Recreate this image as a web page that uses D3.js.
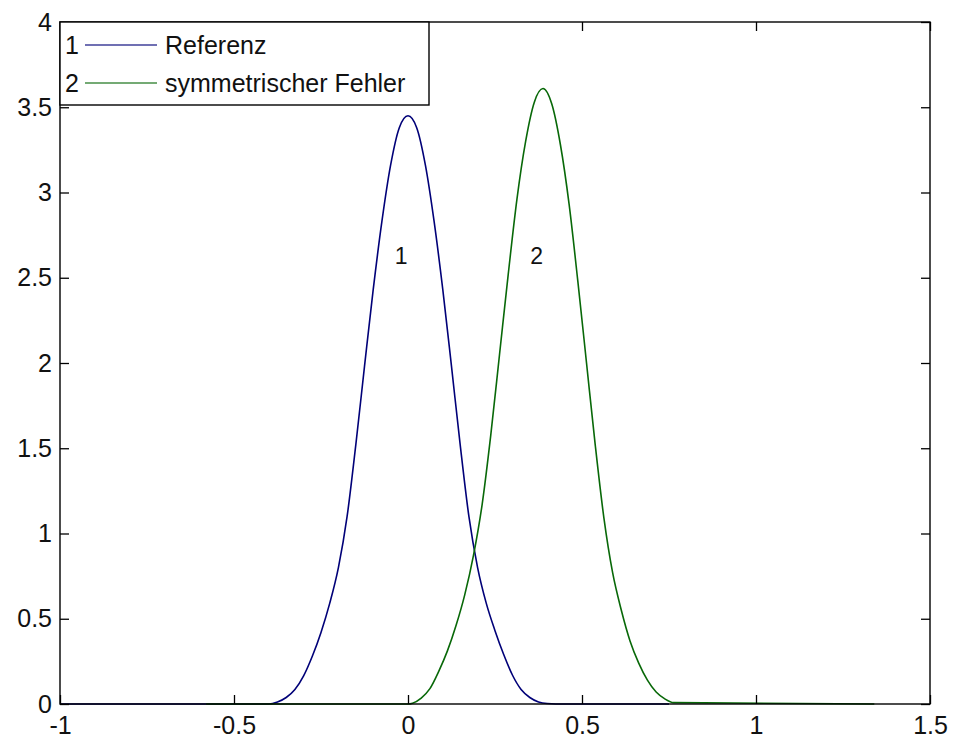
<!DOCTYPE html>
<html>
<head>
<meta charset="utf-8">
<script src="https://cdn.jsdelivr.net/npm/d3@7"></script>
<style>
  html, body { margin: 0; padding: 0; background: #fff; }
  svg { display: block; }
  text { font-family: "Liberation Sans", Arial, sans-serif; fill: #111; }
</style>
</head>
<body>
<svg id="chart" width="955" height="745"></svg>
<script>
// ---- data ----
const xTicks = [-1, -0.5, 0, 0.5, 1, 1.5];
const xTickLabels = ["-1", "-0.5", "0", "0.5", "1", "1.5"];
const yTicks = [0, 0.5, 1, 1.5, 2, 2.5, 3, 3.5, 4];
const yTickLabels = ["0", "0.5", "1", "1.5", "2", "2.5", "3", "3.5", "4"];

const seriesNames = ["Referenz", "symmetrischer Fehler"];
const seriesIds = ["1", "2"];

// Series 1: Referenz
const refX = [-1, -0.45, -0.4, -0.375, -0.35, -0.325, -0.3, -0.275, -0.25, -0.225, -0.2, -0.175, -0.15, -0.125, -0.1, -0.075, -0.05, -0.025,
  0, 0.025, 0.05, 0.075, 0.1, 0.125, 0.15, 0.175, 0.2, 0.225, 0.25, 0.275, 0.3, 0.325, 0.35, 0.375, 0.4, 0.45, 0.75];
const refY = [0, 0, 0, 0.012, 0.038, 0.085, 0.165, 0.28, 0.42, 0.59, 0.80, 1.10, 1.52, 1.98, 2.43, 2.83, 3.16, 3.38,
  3.45, 3.38, 3.16, 2.83, 2.43, 1.98, 1.52, 1.10, 0.80, 0.59, 0.43, 0.29, 0.17, 0.085, 0.038, 0.012, 0.003, 0, 0];

// Series 2: symmetrischer Fehler
const errX = [-0.58, 0.0, 0.013, 0.038, 0.063, 0.088, 0.113, 0.138, 0.163, 0.188, 0.213, 0.238, 0.263, 0.288, 0.313, 0.338, 0.363,
  0.388, 0.413, 0.438, 0.463, 0.488, 0.513, 0.538, 0.563, 0.588, 0.613, 0.638, 0.663, 0.688, 0.713, 0.738, 0.763, 1.34];
const errY = [0, 0, 0.005, 0.035, 0.09, 0.19, 0.31, 0.46, 0.64, 0.87, 1.17, 1.58, 2.05, 2.52, 2.96, 3.30, 3.53,
  3.61, 3.52, 3.28, 2.93, 2.48, 2.00, 1.52, 1.09, 0.77, 0.55, 0.37, 0.24, 0.14, 0.07, 0.03, 0.008, 0];

const seriesColors = ["#000078", "#086808"];

// ---- layout ----
const svg = d3.select("#chart");
const mLeft = 60, mRight = 930, mTop = 22, mBottom = 704;

const x = d3.scaleLinear().domain([-1, 1.5]).range([mLeft, mRight]);
const y = d3.scaleLinear().domain([0, 4]).range([mBottom, mTop]);

// data lines
const series = [
  { xs: refX, ys: refY, color: seriesColors[0] },
  { xs: errX, ys: errY, color: seriesColors[1] }
];
const line = d3.line().x(d => x(d[0])).y(d => y(d[1])).curve(d3.curveMonotoneX);
series.forEach(s => {
  const pts = s.xs.map((v, i) => [v, s.ys[i]]);
  svg.append("path").datum(pts)
    .attr("d", line).attr("fill", "none")
    .attr("stroke", s.color).attr("stroke-width", 1.6);
});

// axes with inward ticks (box on)
const fmtX = (d, i) => xTickLabels[i];
const fmtY = (d, i) => yTickLabels[i];
const axB = d3.axisBottom(x).tickValues(xTicks).tickFormat(fmtX).tickSizeInner(-9).tickSizeOuter(0).tickPadding(17);
const axT = d3.axisTop(x).tickValues(xTicks).tickFormat("").tickSizeInner(-9).tickSizeOuter(0);
const axL = d3.axisLeft(y).tickValues(yTicks).tickFormat(fmtY).tickSizeInner(-9).tickSizeOuter(0).tickPadding(8);
const axR = d3.axisRight(y).tickValues(yTicks).tickFormat("").tickSizeInner(-9).tickSizeOuter(0);

function styleAxis(g) {
  g.select(".domain").remove();
  g.selectAll(".tick line").attr("stroke", "#000").attr("stroke-width", 1.3);
  g.selectAll("text").attr("font-size", 25).attr("font-family", "Liberation Sans, Arial, sans-serif").attr("fill", "#111");
}
svg.append("g").attr("transform", `translate(0,${mBottom})`).call(axB).call(styleAxis)
  .selectAll("text").attr("dy", "0.5em");
svg.append("g").attr("transform", `translate(0,${mTop})`).call(axT).call(styleAxis);
svg.append("g").attr("transform", `translate(${mLeft},0)`).call(axL).call(styleAxis);
svg.append("g").attr("transform", `translate(${mRight},0)`).call(axR).call(styleAxis);

// frame
svg.append("rect").attr("x", mLeft).attr("y", mTop)
  .attr("width", mRight - mLeft).attr("height", mBottom - mTop)
  .attr("fill", "none").attr("stroke", "#000").attr("stroke-width", 1.4);

// curve labels
const labelPos = [[-0.02, 2.63], [0.37, 2.63]];
labelPos.forEach((p, i) => {
  svg.append("text").attr("x", x(p[0])).attr("y", y(p[1]))
    .attr("text-anchor", "middle").attr("dominant-baseline", "central")
    .attr("font-size", 23).attr("font-family", "DejaVu Sans, sans-serif")
    .attr("fill", "#222")
    .text(seriesIds[i]);
});

// legend
const lg = svg.append("g");
lg.append("rect").attr("x", mLeft).attr("y", mTop).attr("width", 369).attr("height", 83)
  .attr("fill", "#fff").attr("stroke", "#000").attr("stroke-width", 1.4);
seriesNames.forEach((name, i) => {
  const cy = mTop + 23 + i * 38;
  lg.append("text").attr("x", mLeft + 5).attr("y", cy).attr("dominant-baseline", "central")
    .attr("font-size", 25).text(seriesIds[i]);
  lg.append("line").attr("x1", mLeft + 25).attr("x2", mLeft + 97).attr("y1", cy).attr("y2", cy)
    .attr("stroke", seriesColors[i]).attr("stroke-width", 1.6).attr("stroke-opacity", 0.75);
  lg.append("text").attr("x", mLeft + 105).attr("y", cy).attr("dominant-baseline", "central")
    .attr("font-size", 25).text(name);
});
</script>
</body>
</html>
